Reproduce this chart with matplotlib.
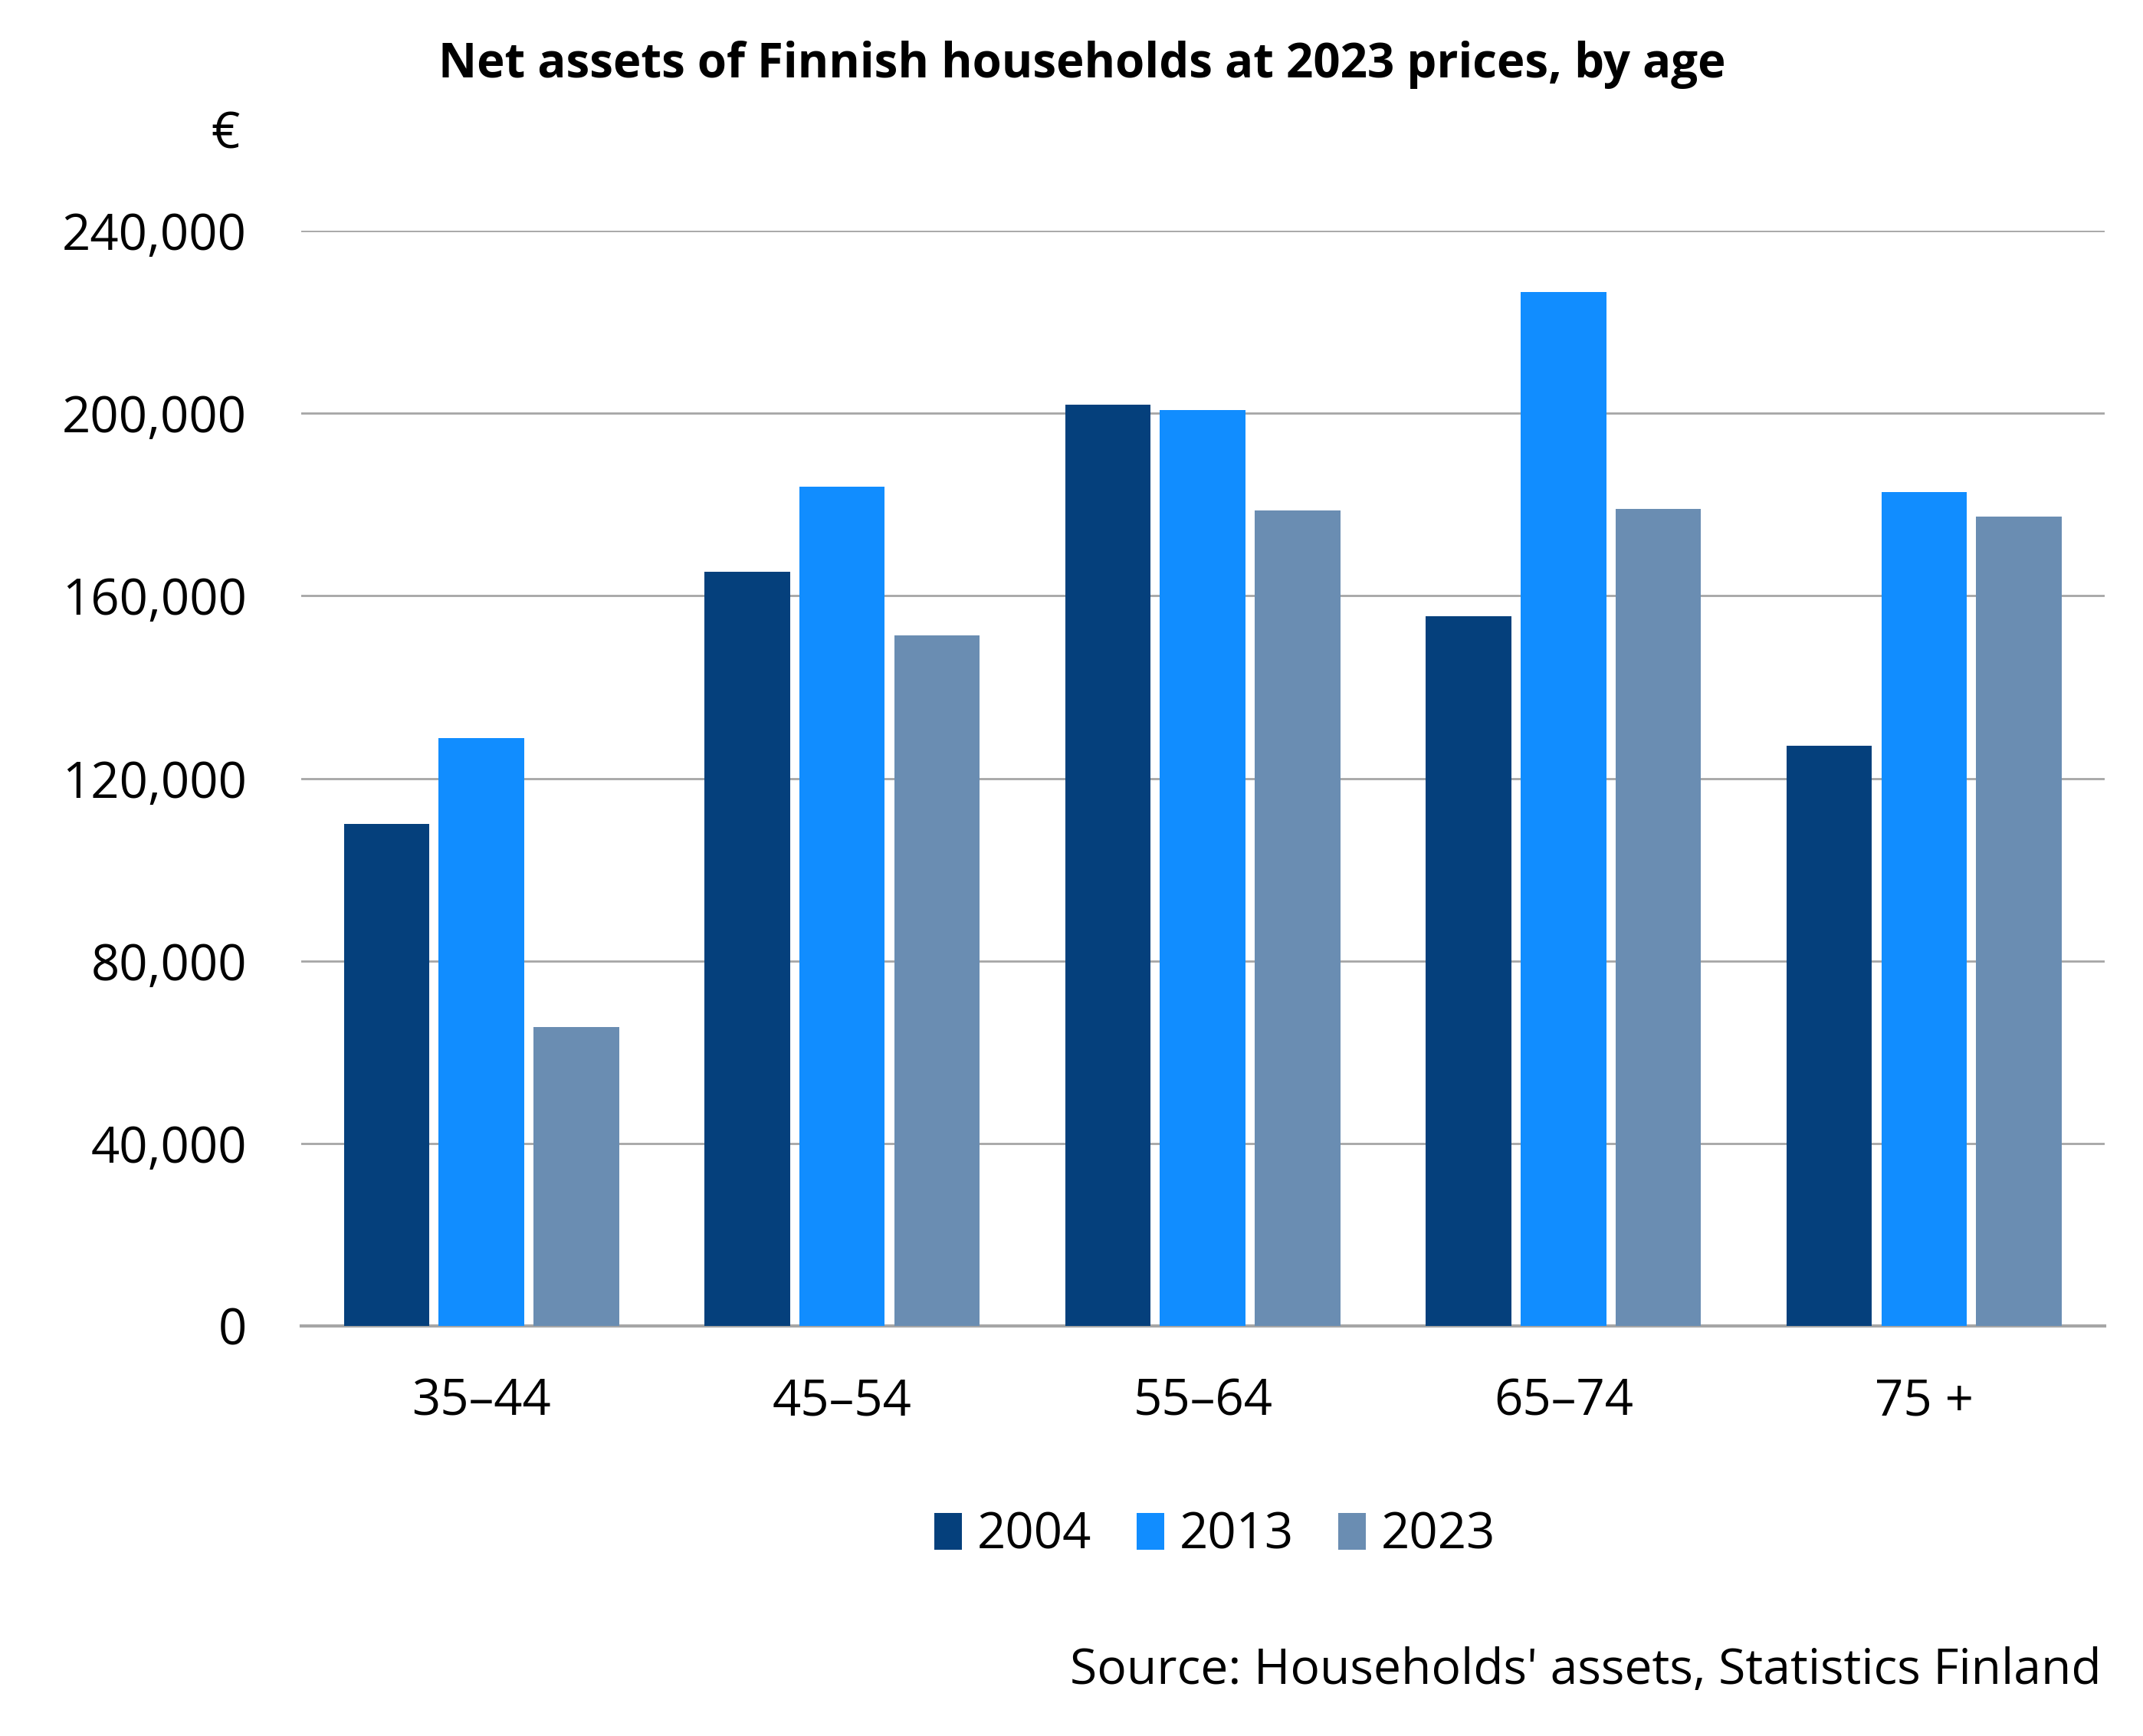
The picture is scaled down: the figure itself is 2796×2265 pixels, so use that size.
import matplotlib
matplotlib.use("Agg")
import matplotlib.pyplot as plt
import numpy as np

categories = ["35\u201344", "45\u201354", "55\u201364", "65\u201374", "75 +"]
series_names = ["2004", "2013", "2023"]
values_2004 = [110000, 165300, 201900, 155600, 127200]
values_2013 = [128900, 183900, 200700, 226600, 182800]
values_2023 = [65500, 151300, 178700, 179100, 177300]
yticks = [0, 40000, 80000, 120000, 160000, 200000, 240000]
colors = ["#05407C", "#118DFF", "#6A8DB2"]

plt.rcParams['font.family'] = ['Open Sans', 'DejaVu Sans']

fig = plt.figure(figsize=(27.96, 22.65), dpi=100)
ax = fig.add_axes([0.1405, 0.2363, 0.8415, 0.6307])

x = np.arange(len(categories))
step = 0.263
width = 0.237
for i, (vals, c, name) in enumerate(zip([values_2004, values_2013, values_2023], colors, series_names)):
    ax.bar(x + (i - 1) * step, vals, width=width, color=c, label=name, zorder=3)

ax.set_xlim(-0.5, len(categories) - 0.5)
ax.set_ylim(0, 240000)
ax.set_yticks(yticks)
ax.set_yticklabels([f"{v:,}" for v in yticks], fontsize=47)
ax.set_xticks(x)
ax.set_xticklabels(categories, fontsize=47)
ax.tick_params(axis='both', length=0)
ax.tick_params(axis='y', pad=51)
ax.tick_params(axis='x', pad=48)
ax.grid(axis='y', color='#A6A6A6', linewidth=2, zorder=0)
for s in ['top', 'right', 'left']:
    ax.spines[s].set_visible(False)
ax.spines['bottom'].set_color('#A6A6A6')
ax.spines['bottom'].set_linewidth(3)

fig.text(0.505, 0.9626, "Net assets of Finnish households at 2023 prices, by age",
         fontsize=44.5, fontweight='bold', ha='center', va='center')
fig.text(0.105, 0.922, "\u20ac", fontsize=47, ha='center', va='center')

fig.legend(loc='center', bbox_to_anchor=(0.567, 0.1154), ncol=3, frameon=False,
           fontsize=47, handlelength=0.55, handleheight=0.75, handletextpad=0.3,
           columnspacing=0.9)

fig.text(0.9807, 0.0374, "Source: Households' assets, Statistics Finland",
         fontsize=46.2, ha='right', va='center')

fig.savefig("out.png", dpi=100)
